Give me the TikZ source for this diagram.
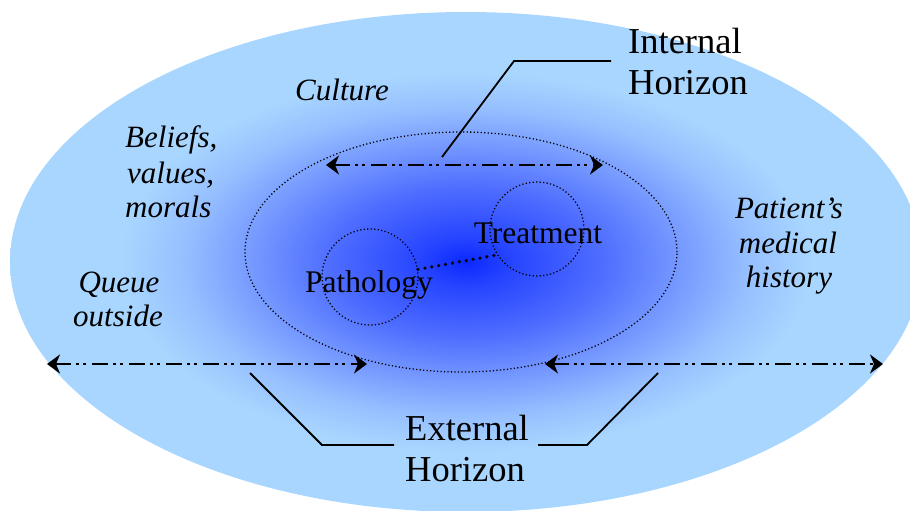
\documentclass[tikz,border=0pt]{standalone}
\usepackage{fontspec}
\setmainfont{Liberation Serif}
\usetikzlibrary{arrows.meta,shapes.geometric}

% radial glow of the outer horizon: deep blue core fading to sky blue
% (25bp corresponds to the rim of the shaded ellipse)
\pgfdeclareradialshading{horizonglow}{\pgfpoint{0bp}{0bp}}{%
  rgb(0bp)=(0.04,0.16,1);
  rgb(2.5bp)=(0.15,0.27,1);
  rgb(7.5bp)=(0.31,0.43,1);
  rgb(12bp)=(0.47,0.61,1);
  rgb(15.5bp)=(0.59,0.75,1);
  rgb(19bp)=(0.66,0.84,1);
  rgb(50bp)=(0.66,0.84,1)}

\tikzset{
  hz/.style={line width=1.3pt, dash pattern=on 1.2pt off 2.3pt},
  link/.style={line width=3.5pt, line cap=round, dash pattern=on 0pt off 7pt},
  span/.style={line width=2pt,
    {Stealth[length=13pt,width=19pt,inset=4pt]}-{Stealth[length=13pt,width=19pt,inset=4pt]},
    dash pattern=on 16pt off 5pt on 3pt off 4pt on 3pt off 6pt},
  leader/.style={line width=1.8pt},
  big/.style={font=\fontsize{36.5}{41}\selectfont, inner sep=0pt, anchor=base west},
  ital/.style={font=\fontsize{31}{35}\selectfont\itshape, inner sep=0pt, anchor=base},
  lab/.style={font=\fontsize{31.5}{35}\selectfont, inner sep=0pt, anchor=base},
  zone/.style={circle, draw, hz, inner sep=0pt}
}

\begin{document}
\begin{tikzpicture}[x=1pt,y=-1pt]
\useasboundingbox (0,0) rectangle (910,511);

% outer horizon
\shade[shading=horizonglow] (466,262) ellipse [x radius=456pt, y radius=250pt];

% inner horizon and the two zones
\node[ellipse, draw, hz, minimum width=432pt, minimum height=240pt, inner sep=0pt] (inner) at (461,252) {};
\node[zone, minimum size=96pt] (patc) at (370,277) {};
\node[zone, minimum size=94pt] (trc) at (537,229) {};
\draw[link] (patc.9.5) -- (trc.213);

\node[lab] (path) at (369,292) {Pathology};
\node[lab] (treat) at (538,243) {Treatment};

% spans
\coordinate (iL) at (326,165);
\coordinate (iR) at (603,165);
\coordinate (eL1) at (47,364);
\coordinate (eL2) at (367,364);
\coordinate (eR1) at (545,364);
\coordinate (eR2) at (883,364);
\draw[span] (iL) -- (iR);
\draw[span] (eL1) -- (eL2);
\draw[span] (eR1) -- (eR2);

% labels with leaders
\node[big] (int1) at (628,53) {Internal};
\node[big] (int2) at (628,95) {Horizon};
\node[big] (ext1) at (405,440) {External};
\node[big] (ext2) at (405,481) {Horizon};

\coordinate (ia) at (442,157);
\coordinate (ib) at (514,61);
\coordinate (ic) at (611,61);
\draw[leader] (ia) -- (ib) -- (ic);

\coordinate (la) at (250,373);
\coordinate (lb) at (322,445);
\coordinate (lc) at (394,445);
\draw[leader] (la) -- (lb) -- (lc);

\coordinate (ra) at (658,373);
\coordinate (rb) at (587,445);
\coordinate (rc) at (538,445);
\draw[leader] (ra) -- (rb) -- (rc);

% context words
\node[ital] (cult) at (342,100) {Culture};
\node[ital, anchor=base west] (bel1) at (125,147) {Beliefs,};
\node[ital, anchor=base west] (bel2) at (127,183) {values,};
\node[ital, anchor=base west] (bel3) at (125,217) {morals};
\node[ital] (que1) at (119,292) {Queue};
\node[ital] (que2) at (118,326) {outside};
\node[ital] (pat1) at (789,218) {Patient’s};
\node[ital] (pat2) at (788,253) {medical};
\node[ital] (pat3) at (789,287) {history};
\end{tikzpicture}
\end{document}
